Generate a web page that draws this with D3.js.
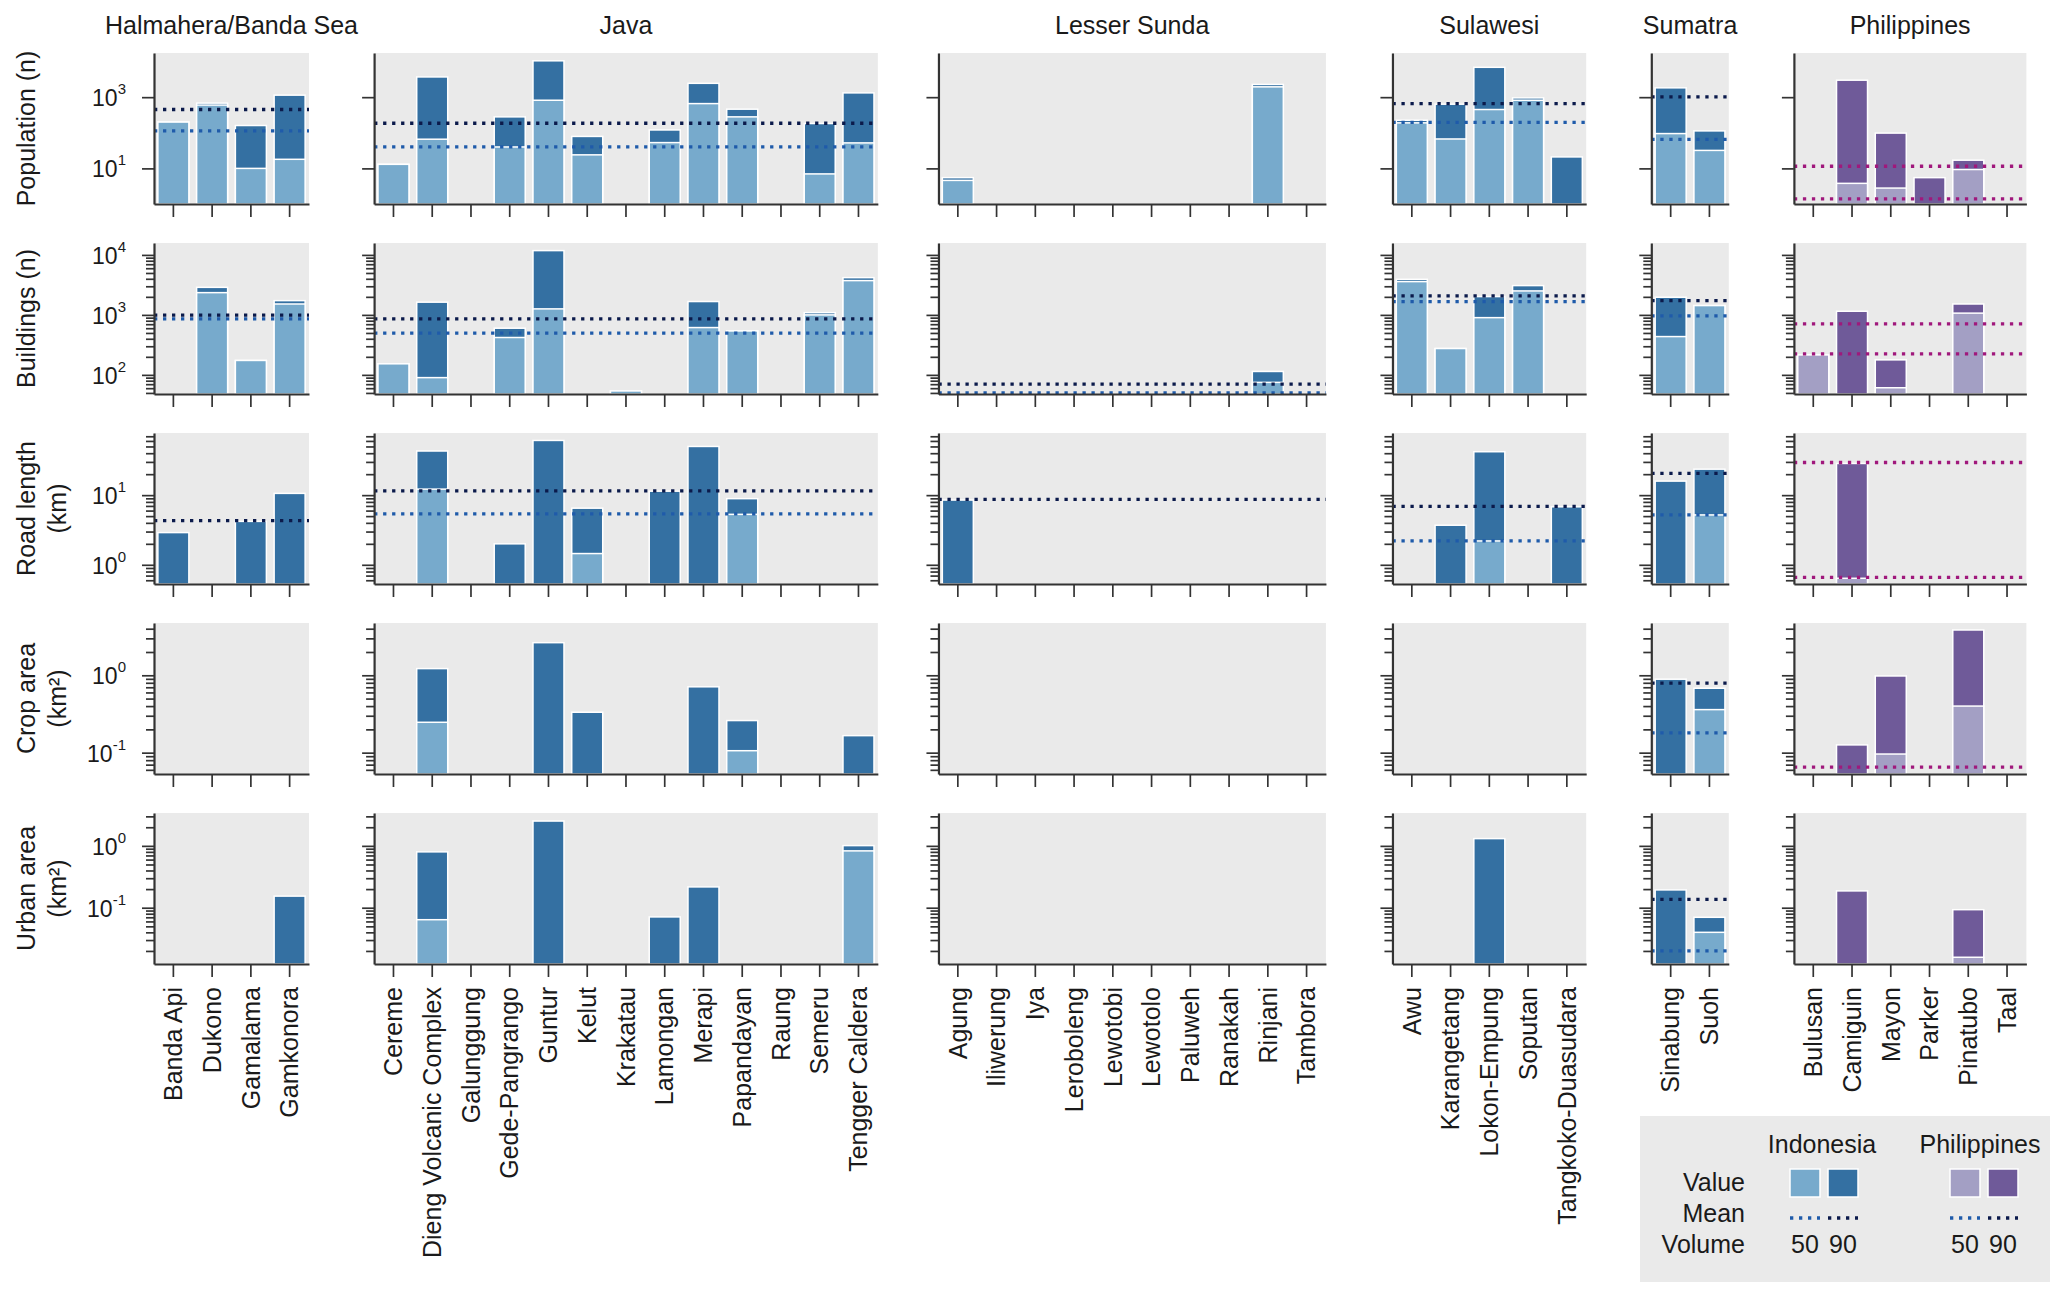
<!DOCTYPE html>
<html><head><meta charset="utf-8">
<script src="https://cdn.jsdelivr.net/npm/d3@7"></script>
<style>
body{margin:0;background:#fff}
text{font-family:"Liberation Sans",Arial,Helvetica,sans-serif;fill:#1a1a1a}
</style>
</head><body><script>
// ---------- DATA ----------
const regions = ["Halmahera/Banda Sea","Java","Lesser Sunda","Sulawesi","Sumatra","Philippines"];
const regionSizes = [4,13,10,5,2,6];
const volcanoes = [
  "Banda Api","Dukono","Gamalama","Gamkonora",
  "Cereme","Dieng Volcanic Complex","Galunggung","Gede-Pangrango","Guntur","Kelut","Krakatau","Lamongan","Merapi","Papandayan","Raung","Semeru","Tengger Caldera",
  "Agung","Iliwerung","Iya","Leroboleng","Lewotobi","Lewotolo","Paluweh","Ranakah","Rinjani","Tambora",
  "Awu","Karangetang","Lokon-Empung","Soputan","Tangkoko-Duasudara",
  "Sinabung","Suoh",
  "Bulusan","Camiguin","Mayon","Parker","Pinatubo","Taal"
];
const metricLabels = [["Population (n)"],["Buildings (n)"],["Road length","(km)"],["Crop area","(km²)"],["Urban area","(km²)"]];
const N = null;
// Volume 50 and Volume 90 values per volcano (same order as volcanoes)
const pop50 = [200,600,10,18, 13,66,N,40,820,24,N,53,660,280,N,7,52, 4.6,N,N,N,N,N,N,N,1950,N, 190,67,450,820,N, 95,32, N,3.8,2.8,N,9.3,N];
const pop90 = [200,680,160,1140, 13,3700,N,280,10500,79,N,120,2450,460,N,182,1320, 5.5,N,N,N,N,N,N,N,2280,N, 225,635,6900,955,21, 1830,113, N,3000,98,5.5,17,N];
const bld50 = [N,2350,174,1520, 153,90,N,420,1260,N,54,N,615,540,N,1000,3730, N,N,N,N,N,N,N,N,75,N, 3590,275,900,2510,N, 435,1430, 215,N,61,N,1070,N];
const bld90 = [N,2880,174,1730, 153,1630,N,600,11800,N,54,N,1670,540,N,1090,4180, N,N,N,N,N,N,N,N,114,N, 3920,275,2020,3080,N, 1970,1430, 215,1150,178,N,1520,N];
const road50 = [N,N,N,N, N,12.2,N,N,N,1.45,N,N,N,5.3,N,N,N, N,N,N,N,N,N,N,N,N,N, N,N,2.2,N,N, N,5.2, N,0.64,N,N,N,N];
const road90 = [2.9,N,4.2,10.6, N,43,N,2.0,61,6.5,N,11.4,50,8.9,N,N,N, 8.5,N,N,N,N,N,N,N,N,N, N,3.7,42,N,6.8, 15.9,23.6, N,28.5,N,N,N,N];
const crop50 = [N,N,N,N, N,0.247,N,N,N,N,N,N,N,0.106,N,N,N, N,N,N,N,N,N,N,N,N,N, N,N,N,N,N, N,0.36, N,N,0.096,N,0.40,N];
const crop90 = [N,N,N,N, N,1.22,N,N,2.64,0.333,N,N,0.71,0.26,N,N,0.166, N,N,N,N,N,N,N,N,N,N, N,N,N,N,N, 0.89,0.68, N,0.126,0.98,N,3.85,N];
const urban50 = [N,N,N,N, N,0.064,N,N,N,N,N,N,N,N,N,N,0.83, N,N,N,N,N,N,N,N,N,N, N,N,N,N,N, N,0.040, N,N,N,N,0.0158,N];
const urban90 = [N,N,N,0.154, N,0.80,N,N,2.52,N,N,0.071,0.217,N,N,N,1.01, N,N,N,N,N,N,N,N,N,N, N,N,1.31,N,N, 0.194,0.070, N,0.187,N,N,0.093,N];
// Regional means (one per region)
const popMean50 = [113,40,N,195,65,1.4];
const popMean90 = [450,185,N,660,1020,11.5];
const bldMean50 = [860,495,50,1670,960,224];
const bldMean90 = [990,860,70,2070,1730,710];
const roadMean50 = [N,5.4,N,2.2,5.2,0.66];
const roadMean90 = [4.3,11.5,8.7,6.9,20.5,29.4];
const cropMean50 = [N,N,N,N,0.18,0.065];
const cropMean90 = [N,N,N,N,0.79,N];
const urbanMean50 = [N,N,N,N,0.020,N];
const urbanMean90 = [N,N,N,N,0.136,N];
// Axis settings
const yDomains = [[1,17400],[48,15800],[0.53,78],[0.053,4.74],[0.0123,3.4]];
const majorTicks = [[10,1000],[100,1000,10000],[1,10],[0.1,1],[0.1,1]];
const showMinor = [false,true,true,true,true];

const values50 = [pop50,bld50,road50,crop50,urban50];
const values90 = [pop90,bld90,road90,crop90,urban90];
const means50 = [popMean50,bldMean50,roadMean50,cropMean50,urbanMean50];
const means90 = [popMean90,bldMean90,roadMean90,cropMean90,urbanMean90];

// ---------- LAYOUT ----------
const W=2067,H=1300;
const svg=d3.select("body").append("svg").attr("width",W).attr("height",H);
const band=38.75, left0=154;
const gaps=[65.1,60.6,66.5,65.1,65.1];
const rowTop=i=>53+i*190, rowBottom=i=>204+i*190;
const C={id50:"#77aacc",id90:"#3470a2",ph50:"#a39fc4",ph90:"#6f5a99",m50:"#1f5baa",m90:"#0b1a4b",ph:"#a0187c",axis:"#333",bg:"#eaeaea"};

const starts=[], offs=[]; let acc=left0, io=0;
regionSizes.forEach((n,r)=>{starts.push(acc); offs.push(io); acc+=n*band+(gaps[r]||0); io+=n;});

function minorTicks(dom){
  const out=[]; const lo=Math.floor(Math.log10(dom[0])), hi=Math.ceil(Math.log10(dom[1]));
  for(let e=lo;e<=hi;e++) for(let k=2;k<=9;k++){const v=k*Math.pow(10,e); if(v>=dom[0]&&v<=dom[1]) out.push(v);}
  return out;
}

for(let i=0;i<5;i++){
  const y=d3.scaleLog().domain(yDomains[i]).range([rowBottom(i),rowTop(i)]);
  regions.forEach((reg,r)=>{
    const names=volcanoes.slice(offs[r],offs[r]+regionSizes[r]);
    const x0=starts[r], x1=starts[r]+regionSizes[r]*band;
    const x=d3.scaleBand().domain(names).range([x0,x1]).paddingInner(0.2).paddingOuter(0.1);
    const g=svg.append("g");
    g.append("rect").attr("x",x0).attr("y",rowTop(i)).attr("width",x1-x0).attr("height",rowBottom(i)-rowTop(i)).attr("fill",C.bg);
    const phil = reg==="Philippines";
    names.forEach((nm,k)=>{
      const j=offs[r]+k;
      [[values90[i][j],phil?C.ph90:C.id90],[values50[i][j],phil?C.ph50:C.id50]].forEach(([v,col])=>{
        if(v==null) return;
        g.append("rect").attr("x",x(nm)).attr("width",x.bandwidth())
          .attr("y",y(v)).attr("height",y.range()[0]-y(v))
          .attr("fill",col).attr("stroke","#fff").attr("stroke-width",1.5);
      });
    });
    [[means50[i][r],phil?C.ph:C.m50],[means90[i][r],phil?C.ph:C.m90]].forEach(([v,col])=>{
      if(v==null) return;
      g.append("line").attr("x1",x0).attr("x2",x1).attr("y1",y(v)).attr("y2",y(v))
        .attr("stroke",col).attr("stroke-width",3.3).attr("stroke-dasharray","3.3,5.7");
    });
    // axes
    g.append("g").attr("transform",`translate(${x0},0)`)
      .call(d3.axisLeft(y).tickValues(majorTicks[i]).tickSize(12).tickSizeOuter(0).tickFormat(""));
    if(showMinor[i]){
      g.append("g").attr("transform",`translate(${x0},0)`)
        .call(d3.axisLeft(y).tickValues(minorTicks(yDomains[i])).tickSize(8).tickSizeOuter(0).tickFormat(""))
        .call(s=>s.select(".domain").remove());
    }
    g.append("g").attr("transform",`translate(0,${rowBottom(i)})`)
      .call(d3.axisBottom(x).tickSize(13).tickSizeOuter(0).tickFormat(""));
    g.selectAll(".domain").attr("stroke",C.axis).attr("stroke-width",2.2);
    g.selectAll(".tick line").attr("stroke",C.axis).attr("stroke-width",1.7);

    if(r===0){
      majorTicks[i].forEach(v=>{
        const t=g.append("text").attr("x",126).attr("y",y(v)+9).attr("text-anchor","end");
        t.append("tspan").attr("font-size",23).text("10");
        t.append("tspan").attr("font-size",15).attr("dy",-12).text(String(Math.round(Math.log10(v))));
      });
    }
    if(i===0){
      svg.append("text").attr("x",(x0+x1)/2).attr("y",34).attr("text-anchor","middle").attr("font-size",25).text(reg);
    }
    if(i===4){
      names.forEach(nm=>{
        svg.append("text").attr("transform",`translate(${x(nm)+x.bandwidth()/2},987) rotate(-90)`)
          .attr("text-anchor","end").attr("dy","0.35em").attr("font-size",25).text(nm);
      });
    }
  });
  const cy=(rowTop(i)+rowBottom(i))/2;
  metricLabels[i].forEach((ln,k)=>{
    svg.append("text").attr("transform",`translate(${26+31*k},${cy}) rotate(-90)`)
      .attr("text-anchor","middle").attr("dy","0.35em").attr("font-size",25).text(ln);
  });
}

// ---------- LEGEND ----------
const lg=svg.append("g");
lg.append("rect").attr("x",1640).attr("y",1116).attr("width",410).attr("height",166).attr("fill",C.bg);
const legendCols=[{name:"Indonesia",cx:1822,sx:1790,c50:C.id50,c90:C.id90},{name:"Philippines",cx:1980,sx:1950,c50:C.ph50,c90:C.ph90}];
[["Value",1191],["Mean",1222],["Volume",1253]].forEach(([t,yy])=>{
  lg.append("text").attr("x",1745).attr("y",yy).attr("text-anchor","end").attr("font-size",25).text(t);
});
legendCols.forEach(c=>{
  lg.append("text").attr("x",c.cx).attr("y",1153).attr("text-anchor","middle").attr("font-size",25).text(c.name);
  [[c.c50,C.m50,"50",0],[c.c90,C.m90,"90",38]].forEach(([fc,mc,lab,dx])=>{
    lg.append("rect").attr("x",c.sx+dx).attr("y",1169).attr("width",30).attr("height",28).attr("fill",fc).attr("stroke","#fff").attr("stroke-width",1.5);
    lg.append("line").attr("x1",c.sx+dx).attr("x2",c.sx+dx+30).attr("y1",1218).attr("y2",1218)
      .attr("stroke",mc).attr("stroke-width",3.3).attr("stroke-dasharray","3.3,5.7");
    lg.append("text").attr("x",c.sx+dx+15).attr("y",1253).attr("text-anchor","middle").attr("font-size",25).text(lab);
  });
});
</script></body></html>
